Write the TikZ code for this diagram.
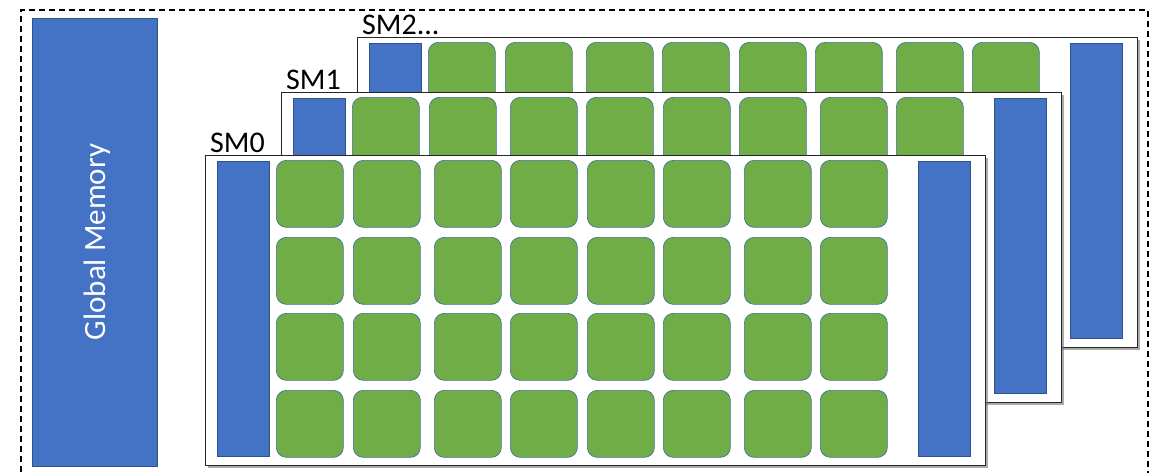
\documentclass[tikz,border=0pt]{standalone}
\usepackage{fontspec}
\setmainfont{Carlito}
\usetikzlibrary{shadows}
\definecolor{gblue}{HTML}{4472C4}
\definecolor{gblueline}{HTML}{2F528F}
\definecolor{ggreen}{HTML}{70AD47}
\definecolor{ggreenline}{HTML}{41719C}
\tikzset{
 gpubox/.style={draw=black, line width=1.6pt, dash pattern=on 6pt off 4pt, minimum width=1127pt, minimum height=480pt, inner sep=0pt, anchor=north west},
 smframe/.style={draw=black!85, line width=0.8pt, fill=white, minimum width=780pt, minimum height=310pt, inner sep=0pt, anchor=north west, drop shadow={shadow xshift=2.5pt, shadow yshift=-2.5pt, fill=black!55, opacity=0.6}},
 core/.style={draw=ggreenline, line width=0.7pt, fill=ggreen, rounded corners=10pt, minimum width=67pt, minimum height=67pt, inner sep=0pt, anchor=north west},
 membar/.style={draw=gblueline, line width=0.7pt, fill=gblue, minimum width=52pt, minimum height=295pt, inner sep=0pt, anchor=north west},
 smlabel/.style={font=\fontsize{30}{36}\selectfont, inner sep=0pt, anchor=base west},
 gmlabel/.style={font=\fontsize{31}{37}\selectfont, text=white, rotate=90, inner sep=0pt},
}
\newcommand\smunit[4]{%
 \node[smframe] (#1) at (#2,#3) {};
 \node[smlabel] (#1-label) at (#2+5,#3-3) {#4};
 \node[membar] (#1-l1) at (#2+12,#3+6) {};
 \node[membar] (#1-l2) at (#2+713,#3+6) {};
 \foreach \cx [count=\i] in {71,148,229,305,382,458,539,615}{
   \foreach \ry [count=\j] in {5,82,158,235}{
     \node[core] (#1-c\i-\j) at (#2+\cx,#3+\ry) {};
 }}
}
\begin{document}
\begin{tikzpicture}[x=1pt,y=-1pt]
\useasboundingbox (0,0) rectangle (1152,472);
\clip (0,0) rectangle (1152,472);
\fill[white] (0,0) rectangle (1152,472);
\node[gpubox] (gpu) at (20,9) {};
\node[membar, minimum width=125pt, minimum height=448pt] (gm) at (32,18) {};
\node[gmlabel] (gmtext) at (97,242) {Global Memory};
\smunit{sm2}{357}{37}{SM2...}
\smunit{sm1}{281}{92}{SM1}
\smunit{sm0}{205}{155}{SM0}
\end{tikzpicture}
\end{document}
